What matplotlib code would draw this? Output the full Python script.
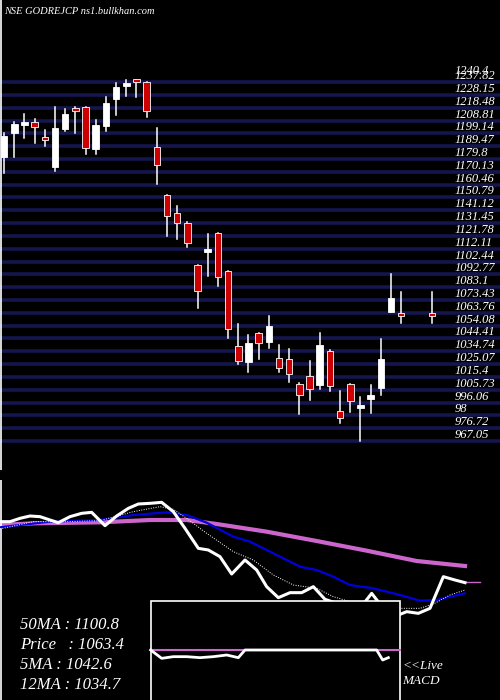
import matplotlib
matplotlib.use("Agg")
import matplotlib.pyplot as plt
from matplotlib.patches import Rectangle

# ---- candle data (slot index, open, high, low, close) ----
slots = list(range(38)) + [38, 39, 42]
opens = [1181.5,1199.6,1205.9,1207.4,1195.6,1174.0,1202.4,1217.4,1218.7,1187.5,
         1204.9,1225.2,1235.3,1239.3,1237.6,1189.0,1152.3,1138.8,1131.2,1099.5,
         1110.4,1123.7,1095.5,1038.7,1026.4,1048.3,1041.5,1029.4,1028.7,1010.0,
         1016.1,1009.3,1034.9,989.7,1010.0,991.7,998.5,1006.8,1064.6,1063.1,1063.1]
highs = [1199.1,1207.9,1213.7,1209.7,1201.6,1218.7,1217.2,1218.7,1218.7,1209.1,
         1226.3,1236.8,1239.3,1239.3,1237.8,1202.9,1152.6,1144.3,1132.0,1099.5,
         1123.2,1123.7,1095.5,1055.3,1047.0,1048.3,1061.3,1039.5,1036.4,1011.1,
         1027.4,1048.3,1035.7,1004.7,1010.0,999.9,1009.3,1044.0,1093.0,1079.4,1079.4]
lows = [1168.9,1181.5,1195.8,1191.6,1189.5,1170.9,1201.1,1199.1,1183.3,1183.3,
        1201.1,1212.9,1227.5,1226.7,1211.7,1160.6,1121.9,1119.2,1113.1,1067.6,
        1091.5,1084.2,1044.5,1024.9,1018.9,1028.7,1036.9,1018.9,1011.8,987.2,
        998.0,1006.0,1005.0,980.9,988.7,967.0,988.4,1001.5,1064.6,1056.3,1056.3]
closes = [1197.1,1206.1,1207.6,1203.6,1194.3,1202.9,1213.7,1216.2,1187.8,1205.4,
          1221.7,1233.8,1236.3,1238.3,1216.2,1174.9,1136.7,1131.2,1116.1,1080.2,
          1111.3,1090.5,1051.5,1027.4,1040.7,1040.7,1053.8,1021.9,1017.6,1001.5,
          1006.0,1039.5,1008.5,984.2,997.3,994.2,1001.7,1028.7,1074.6,1062.1,1062.1]

level_values = [1237.82 - k * 9.67 for k in range(29)]
level_labels = ["1237.82","1228.15","1218.48","1208.81","1199.14","1189.47","1179.8",
                "1170.13","1160.46","1150.79","1141.12","1131.45","1121.78","1112.11",
                "1102.44","1092.77","1083.1","1073.43","1063.76","1054.08","1044.41",
                "1034.74","1025.07","1015.4","1005.73","996.06","98","976.72","967.05"]
top_label = "1240.4"

# ---- indicator panel (x pixel, y pixel within panel) ----
price_x = [0,30,60,90,120,150,175,210,245,275,315,350,385,415,450,485,520,555,595,625,660,695,735,770,800,835,870,905,940,975,1010,1045,1080,1115,1150,1195,1220,1255,1290,1330,1365,1395]
price_y = [125,125,115,108,110,120,128,110,100,97,137,108,85,72,70,67,95,145,205,210,230,282,240,270,320,353,338,338,320,358,370,375,385,340,385,405,395,400,385,290,300,308]
ma12_x = [0,60,150,300,400,500,560,620,700,750,800,900,950,1000,1050,1120,1200,1260,1310,1350,1395]
ma12_y = [142,135,125,120,105,97,105,128,170,185,210,260,270,290,315,325,345,362,360,350,340]
ma5_x = [0,100,200,300,400,480,520,560,620,700,760,820,880,950,1000,1050,1150,1200,1260,1300,1350,1395]
ma5_y = [147,125,125,122,95,80,88,115,160,215,240,285,315,325,350,365,372,385,385,372,345,330]
ma50_x = [0,100,300,450,560,650,800,950,1100,1250,1395]
ma50_y = [135,130,127,120,120,132,155,183,212,243,258]
macd_x = [452,485,520,560,600,640,680,715,735,1130,1148,1165]
macd_y = [510,535,530,530,533,530,525,533,510,510,540,533]

info = ["50MA : 1100.8", "Price   : 1063.4", "5MA : 1042.6", "12MA : 1034.7"]

W, H = 500, 700
fig = plt.figure(figsize=(5, 7), dpi=100, facecolor="black")
serif = {"family": "Liberation Serif", "style": "italic"}

# top panel
top_h = 470
ax = fig.add_axes([0, 1 - top_h / H, 1, top_h / H], facecolor="black")
ax.set_xlim(-0.4, 48.7)
ax.set_ylim(945.2, 1299.7)
ax.axis("off")
for v in level_values:
    ax.axhline(v, color="#16164f", lw=2.6, zorder=1)
for s, o, h, l, c in zip(slots, opens, highs, lows, closes):
    ax.plot([s, s], [l, h], color="white", lw=1.1, zorder=3)
    col = "white" if c >= o else "#cc0000"
    hgt = max(abs(c - o), 2.2)
    b = (o + c) / 2 - hgt / 2
    ax.add_patch(Rectangle((s - 0.32, b), 0.64, hgt, facecolor=col,
                           edgecolor="white", lw=0.6, zorder=4))
for v, t in zip(level_values, level_labels):
    ax.text(44.2, v, t, color="white", fontsize=9, va="bottom", ha="left",
            zorder=5, **serif)
ax.text(44.2, 1241.5, top_label, color="white", fontsize=9, va="bottom",
        ha="left", zorder=5, **serif)
ax.axvline(-0.35, color="white", lw=1.2)

fig.text(4 / W, 1 - 11 / H, "NSE GODREJCP ns1.bullkhan.com", color="white",
         fontsize=7.5, va="center", ha="left", **serif)

# bottom panel in pixel coordinates
bx = fig.add_axes([0, 0, 1, 220 / H], facecolor="black")
bx.set_xlim(0, 500)
bx.set_ylim(700, 480)
bx.axis("off")
tx = lambda xs: [x / 3 for x in xs]
ty = lambda ys: [480 + y / 3 for y in ys]
bx.plot(tx(ma50_x), ty(ma50_y), color="#cc66cc", lw=3, zorder=2)
bx.plot([465, 480], [582, 582], color="#cc66cc", lw=1, zorder=2)
bx.plot(tx(ma12_x), ty(ma12_y), color="#0000dd", lw=1.6, zorder=3)
bx.plot(tx(ma5_x), ty(ma5_y), color="white", lw=0.7, ls=(0, (1, 1.5)), zorder=3)
bx.plot(tx(price_x), ty(price_y), color="white", lw=2.2, zorder=4)
bx.add_patch(Rectangle((150.5, 600.5), 249.5, 105, facecolor="black",
                       edgecolor="white", lw=1.2, zorder=5))
bx.plot([151, 400], [650, 650], color="#cc66cc", lw=1.5, zorder=6)
bx.plot(tx(macd_x), ty(macd_y), color="white", lw=2, zorder=7)
bx.plot([0.6, 0.6], [480, 700], color="white", lw=1.2)
for i, t in enumerate(info):
    bx.text(20, 625 + i * 20, t, color="white", fontsize=12, va="center",
            ha="left", **serif)
bx.text(402, 666, "<<Live", color="white", fontsize=9.5, va="center", ha="left", **serif)
bx.text(402, 681, "MACD", color="white", fontsize=9.5, va="center", ha="left", **serif)

fig.savefig("out.png", dpi=100, facecolor="black")
